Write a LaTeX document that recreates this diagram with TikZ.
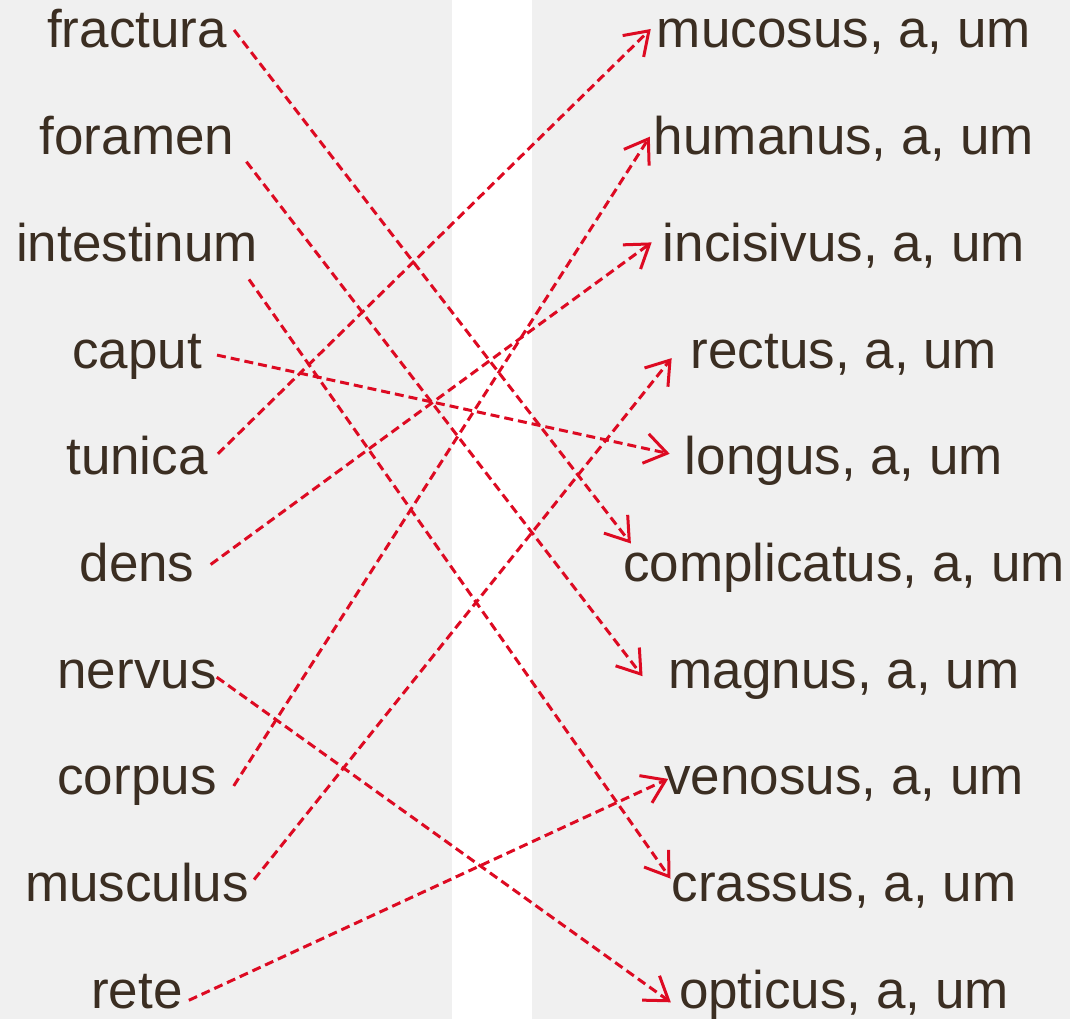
\documentclass[tikz,border=0pt]{standalone}
\usepackage{fontspec}
\setmainfont{Liberation Sans}
\usetikzlibrary{arrows.meta}
\definecolor{panelgray}{HTML}{F0F0F0}
\definecolor{wordbrown}{HTML}{3B2E22}
\definecolor{linkred}{HTML}{DD0A22}

\begin{document}
\begin{tikzpicture}[
    x=1pt, y=-1pt,
    >={Straight Barb[length=22pt, width=30pt, line width=3pt]},
    word/.style={text=wordbrown, inner sep=0pt, anchor=base, font=\fontsize{53}{60}\selectfont},
    link/.style={->, linkred, line width=3pt, dash pattern=on 9pt off 5pt},
]
\useasboundingbox (0,0) rectangle (1070,1019);
% two grey panels with a white gap between them
\fill[panelgray] (0,0) rectangle (452,1019);
\fill[panelgray] (532,0) rectangle (1070,1019);
% left column: nouns
\foreach \n [count=\i] in {fractura,foramen,intestinum,caput,tunica,dens,nervus,corpus,musculus,rete}{
  \node[word] (\n) at (137,{48+106.7*(\i-1)}) {\n};
}
% right column: adjectives
\foreach \n [count=\i] in {mucosus,humanus,incisivus,rectus,longus,complicatus,magnus,venosus,crassus,opticus}{
  \node[word] (\n) at (844,{48+106.7*(\i-1)}) {\n, a, um};
}
% matching pairs -> dashed red arrows
\foreach \a/\sa/\b/\sb in {
    fractura/{(7,-18)}/complicatus/{(8,-38)},
    foramen/{(12,7)}/magnus/{(-26,-12)},
    intestinum/{(-9,18)}/crassus/{(-1,-23)},
    caput/{(15,-13)}/longus/{(-15,-21)},
    tunica/{(10,-21)}/mucosus/{(-6,-19)},
    dens/{(16,-17)}/incisivus/{(-11,-19)},
    nervus/{(0,-11)}/opticus/{(-8,-6)},
    corpus/{(17,-9)}/humanus/{(-4,-18)},
    musculus/{(5,-22)}/rectus/{(-19,-10)},
    rete/{(6,-8)}/venosus/{(4,-16)}}{
  \draw[link] ([shift={\sa}]\a.base east) -- ([shift={\sb}]\b.base west);
}
\end{tikzpicture}
\end{document}
